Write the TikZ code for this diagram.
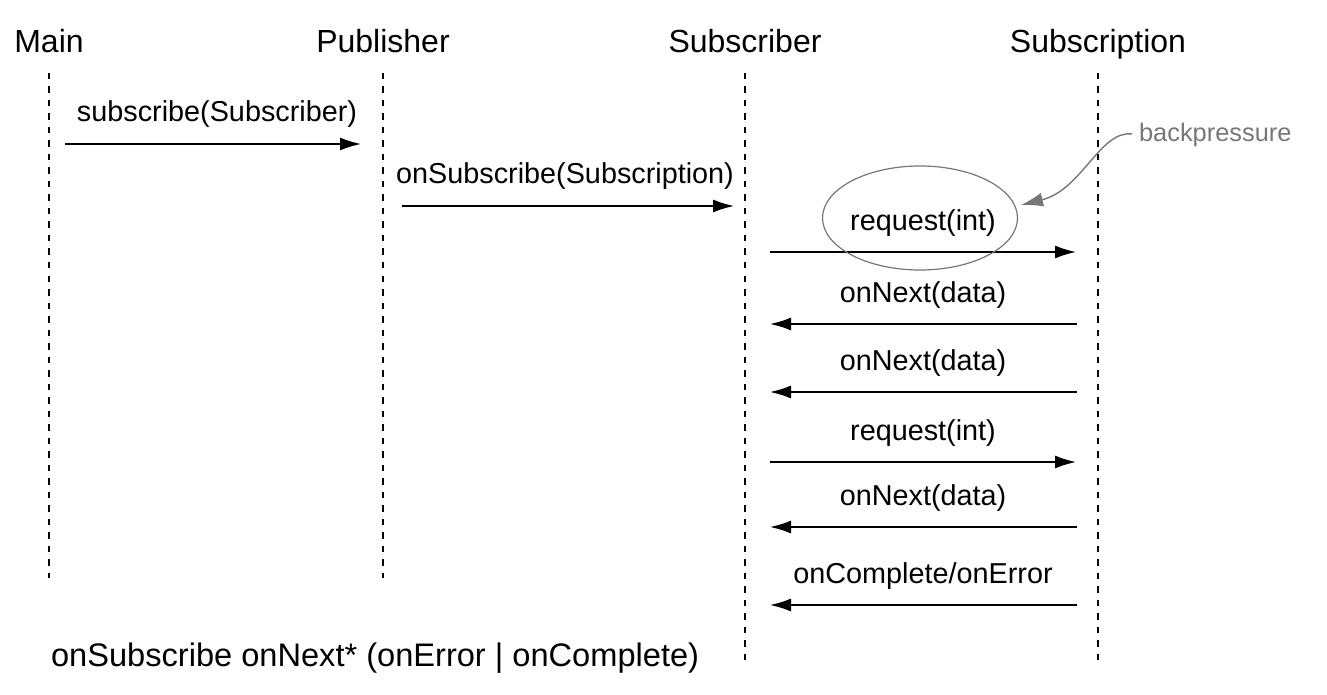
\documentclass[tikz,border=0pt]{standalone}
\usepackage{fontspec}
\setmainfont{Liberation Sans}
\usetikzlibrary{arrows.meta,shapes.geometric}
\definecolor{notegray}{HTML}{777777}
\def\xmain{49}
\def\xpub{383}
\def\xsub{745}
\def\xsubn{1098}
\def\xmid{923}
\tikzset{
  head/.style={anchor=base,font=\fontsize{16}{19}\selectfont},
  msglabel/.style={anchor=base,font=\fontsize{14.4}{17}\selectfont},
  lifeline/.style={line width=0.9pt,dash pattern=on 3.25pt off 3.5pt},
  msg/.style={line width=0.75pt,-{Latex[length=10.5pt,width=6.5pt]}},
  note/.style={text=notegray,font=\fontsize{12.7}{15}\selectfont}
}

\begin{document}
\begin{tikzpicture}[x=0.5pt,y=-0.5pt]
  \useasboundingbox (0,0) rectangle (1327,695);
  % participants and lifelines
  \node[head] (main) at (\xmain,53) {Main};
  \node[head] (pub) at (\xpub,53) {Publisher};
  \node[head] (sub) at (\xsub,53) {Subscriber};
  \node[head] (subn) at (\xsubn,53) {Subscription};
  \coordinate (main top) at (\xmain,73);  \coordinate (main bot) at (\xmain,578);
  \coordinate (pub top) at (\xpub,73);    \coordinate (pub bot) at (\xpub,578);
  \coordinate (sub top) at (\xsub,73);    \coordinate (sub bot) at (\xsub,666);
  \coordinate (subn top) at (\xsubn,73);  \coordinate (subn bot) at (\xsubn,666);
  \draw[lifeline] (main top) -- (main bot) (pub top) -- (pub bot)
                  (sub top) -- (sub bot) (subn top) -- (subn bot);
  % Main -> Publisher -> Subscriber
  \coordinate (m1a) at (65,144);  \coordinate (m1b) at (361,144);
  \coordinate (m2a) at (402,206); \coordinate (m2b) at (734,206);
  \draw[msg] (m1a) -- (m1b);
  \draw[msg] (m2a) -- (m2b);
  \node[msglabel] (m1l) at (217,122) {subscribe(Subscriber)};
  \node[msglabel] (m2l) at (565,184) {onSubscribe(Subscription)};
  % Subscriber <-> Subscription
  \coordinate (r1a) at (770,252); \coordinate (r1b) at (1076,252);
  \coordinate (n1a) at (1077,324); \coordinate (n1b) at (770,324);
  \coordinate (n2a) at (1077,392); \coordinate (n2b) at (770,392);
  \coordinate (r2a) at (770,462); \coordinate (r2b) at (1076,462);
  \coordinate (n3a) at (1077,527); \coordinate (n3b) at (770,527);
  \coordinate (ca) at (1077,605);  \coordinate (cb) at (770,605);
  \draw[msg] (r1a) -- (r1b);
  \draw[msg] (n1a) -- (n1b);
  \draw[msg] (n2a) -- (n2b);
  \draw[msg] (r2a) -- (r2b);
  \draw[msg] (n3a) -- (n3b);
  \draw[msg] (ca) -- (cb);
  \node[msglabel] (r1l) at (\xmid,231) {request(int)};
  \node[msglabel] (n1l) at (\xmid,302) {onNext(data)};
  \node[msglabel] (n2l) at (\xmid,370) {onNext(data)};
  \node[msglabel] (r2l) at (\xmid,440) {request(int)};
  \node[msglabel] (n3l) at (\xmid,505) {onNext(data)};
  \node[msglabel] (cl) at (\xmid,583) {onComplete/onError};
  % backpressure note
  \node[ellipse,draw=notegray,line width=0.6pt,minimum width=97.5pt,minimum height=52pt,inner sep=0pt] (bp) at (920,218) {};
  \node[note,anchor=base west] (bpnote) at (1132,142) {backpressure};
  \coordinate (bptip) at (1021,205);
  \draw[notegray,line width=0.7pt,-{Latex[length=11pt,width=7pt]}]
    (bpnote.west |- 0,134) .. controls (1100,130) and (1082,190) .. (bptip);
  % grammar
  \node[anchor=base west,font=\fontsize{16.3}{19}\selectfont] (grammar) at (44,666)
    {onSubscribe onNext* (onError | onComplete)};
\end{tikzpicture}
\end{document}
